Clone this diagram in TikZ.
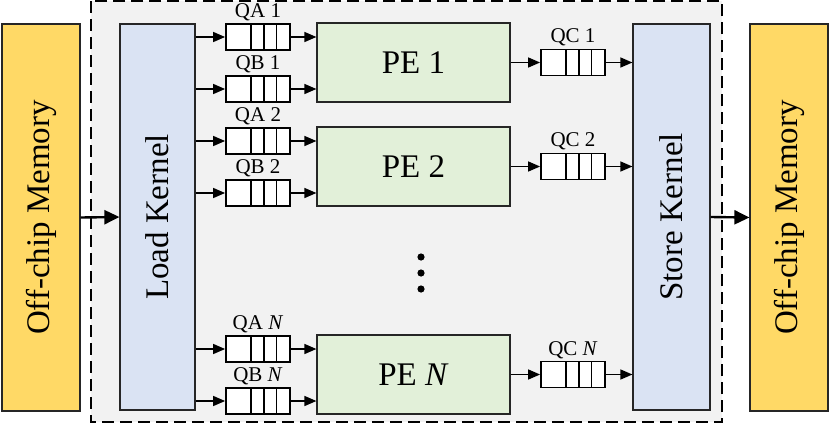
\documentclass[tikz,border=0pt]{standalone}
\usepackage{fontspec}
\setmainfont{Liberation Serif}
\usetikzlibrary{calc,positioning,arrows.meta}

\definecolor{memyellow}{HTML}{FFD966}
\definecolor{kernblue}{HTML}{DAE3F3}
\definecolor{pegreen}{HTML}{E2F0D9}
\definecolor{chipgray}{HTML}{F2F2F2}

\tikzset{
  bigtext/.style={font=\fontsize{33}{33}\selectfont},
  qtext/.style={font=\fontsize{21}{21}\selectfont, inner sep=0pt},
  unit/.style={draw=black!85, line width=1.2pt, inner sep=0pt, bigtext},
  queue/.style={draw, line width=1.8pt, fill=white, minimum width=64pt,
    minimum height=26pt, inner sep=0pt,
    path picture={\foreach \f in {0.39,0.59,0.79}
      \draw[line width=1.8pt] ($(path picture bounding box.south west)!\f!(path picture bounding box.south east)$)
        -- ($(path picture bounding box.north west)!\f!(path picture bounding box.north east)$);}},
  link/.style={line width=1.4pt, -{Triangle[length=12pt,width=10pt]}},
  biglink/.style={line width=2.4pt, -{Triangle[length=15pt,width=14pt]}}
}

\begin{document}
\begin{tikzpicture}[x=1pt,y=-1pt]
\useasboundingbox (0,0) rectangle (830,426);
% chip area
\draw[fill=chipgray, line width=1.8pt, dash pattern=on 12pt off 6pt] (91,1) rectangle (722,422);
% memories and kernels
\node[unit, fill=memyellow, minimum width=78pt, minimum height=387pt] (memL) at (41,217.5) {\rotatebox{90}{Off-chip Memory}};
\node[unit, fill=kernblue, minimum width=75pt, minimum height=386pt] (load) at (157.5,217) {\rotatebox{90}{Load Kernel}};
\node[unit, fill=kernblue, minimum width=77pt, minimum height=386pt] (store) at (671.5,217) {\rotatebox{90}{Store Kernel}};
\node[unit, fill=memyellow, minimum width=78pt, minimum height=387pt] (memR) at (789,217.5) {\rotatebox{90}{Off-chip Memory}};
% processing elements with their queues
\foreach \i/\lab/\y in {1/1/62.5, 2/2/166.5, n/\textit{N}/374.5} {
  \node[unit, fill=pegreen, minimum width=193pt, minimum height=79pt] (pe\i) at (413.5,\y) {PE \lab};
  \node[queue] (qa\i) at (258,\y-25.5) {};
  \node[queue] (qb\i) at (258,\y+26.5) {};
  \node[queue] (qc\i) at (573,\y) {};
  \node[qtext, above=2pt of qa\i] {QA \lab};
  \node[qtext, above=2pt of qb\i] {QB \lab};
  \node[qtext, above=2pt of qc\i] {QC \lab};
  \draw[link] (load.east |- qa\i) -- (qa\i.west);
  \draw[link] (load.east |- qb\i) -- (qb\i.west);
  \draw[link] (qa\i.east) -- (qa\i.east -| pe\i.west);
  \draw[link] (qb\i.east) -- (qb\i.east -| pe\i.west);
  \draw[link] (pe\i.east) -- (qc\i.west);
  \draw[link] (qc\i.east) -- (qc\i.east -| store.west);
}
% dots
\foreach \y in {257,273,289}
  \fill (421,\y) circle (3.6pt);
% memory links
\draw[biglink] (memL.east) -- (load.west);
\draw[biglink] (store.east) -- (memR.west);
\end{tikzpicture}
\end{document}
